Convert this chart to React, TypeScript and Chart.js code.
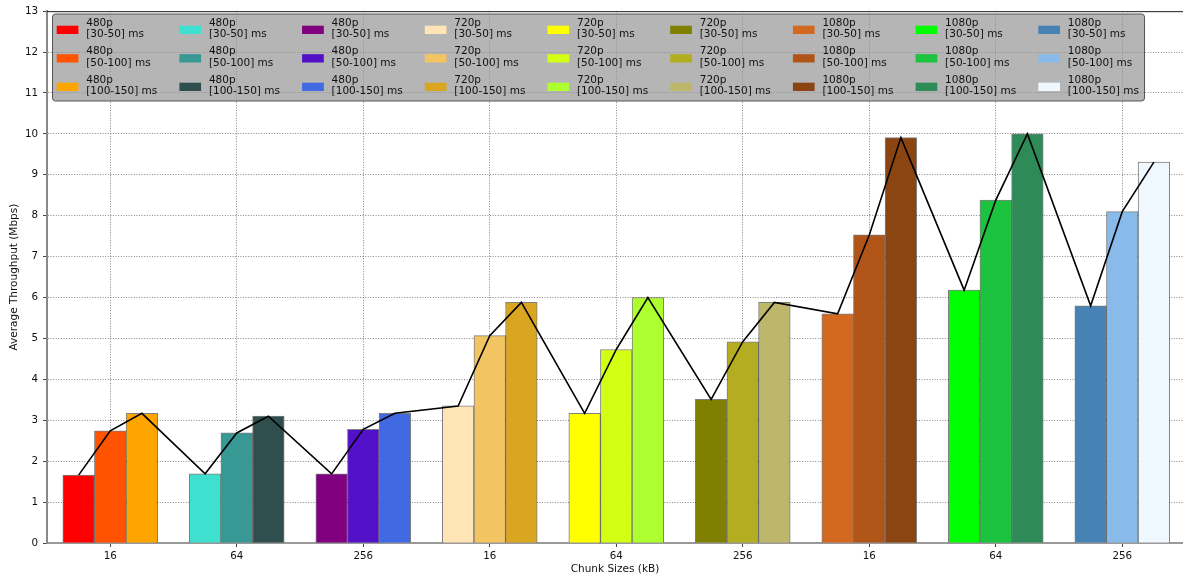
import React, { useEffect, useRef } from 'react';
import { Chart, registerables } from 'chart.js';

Chart.register(...registerables);

// ---- data ----
const chunkSizes = ['16', '64', '256', '16', '64', '256', '16', '64', '256'];
const groupResolutions = ['480p', '480p', '480p', '720p', '720p', '720p', '1080p', '1080p', '1080p'];
const latencyRanges = ['[30-50] ms', '[50-100] ms', '[100-150] ms'];

const throughput30to50 = [1.66, 1.69, 1.69, 3.35, 3.17, 3.51, 5.6, 6.18, 5.8];
const throughput50to100 = [2.74, 2.69, 2.78, 5.07, 4.73, 4.92, 7.53, 8.38, 8.1];
const throughput100to150 = [3.17, 3.1, 3.17, 5.88, 6.0, 5.88, 9.91, 10.0, 9.31];

const colors30to50 = ['#ff0000', '#40e0d0', '#800080', '#ffe4b5', '#ffff00', '#808000', '#d2691e', '#00ff00', '#4682b4'];
const colors50to100 = ['#ff5300', '#379894', '#5210c8', '#f3c462', '#d2ff14', '#b4ad22', '#b05418', '#1bc33e', '#89bbea'];
const colors100to150 = ['#ffa500', '#2f4f4f', '#4169e1', '#daa520', '#adff2f', '#bdb76b', '#8b4513', '#2e8b57', '#f0f8ff'];

const yMax = 13;

const seriesValues = [throughput30to50, throughput50to100, throughput100to150];
const seriesColors = [colors30to50, colors50to100, colors100to150];

// ---- derived (positions inside each group: left / middle / right bar) ----
const barOffsets = [-0.25, 0, 0.25];
const points: { x: number; y: number }[] = [];
const pointColors: string[] = [];
chunkSizes.forEach((_, g) => {
  for (let j = 0; j < 3; j++) {
    points.push({ x: g + barOffsets[j], y: seriesValues[j][g] });
    pointColors.push(seriesColors[j][g]);
  }
});

const FONT = 'DejaVu Sans';
const TEXT = '#111';

const overlayPlugin = {
  id: 'overlay',
  afterDatasetsDraw(chart: any) {
    const { ctx, chartArea } = chart;
    ctx.save();
    // top spine
    ctx.strokeStyle = '#222';
    ctx.lineWidth = 1;
    ctx.beginPath();
    ctx.moveTo(chartArea.left, chartArea.top + 0.5);
    ctx.lineTo(chartArea.right, chartArea.top + 0.5);
    ctx.stroke();

    // legend box
    const bx = 52.5, by = 14, bw = 1092, bh = 87, r = 3;
    ctx.beginPath();
    ctx.moveTo(bx + r, by);
    ctx.lineTo(bx + bw - r, by);
    ctx.quadraticCurveTo(bx + bw, by, bx + bw, by + r);
    ctx.lineTo(bx + bw, by + bh - r);
    ctx.quadraticCurveTo(bx + bw, by + bh, bx + bw - r, by + bh);
    ctx.lineTo(bx + r, by + bh);
    ctx.quadraticCurveTo(bx, by + bh, bx, by + bh - r);
    ctx.lineTo(bx, by + r);
    ctx.quadraticCurveTo(bx, by, bx + r, by);
    ctx.closePath();
    ctx.fillStyle = 'rgba(150,150,150,0.7)';
    ctx.fill();
    ctx.strokeStyle = '#555';
    ctx.lineWidth = 1;
    ctx.stroke();

    ctx.font = `10.5px "${FONT}"`;
    ctx.textBaseline = 'middle';
    ctx.textAlign = 'left';
    for (let c = 0; c < chunkSizes.length; c++) {
      for (let rr = 0; rr < 3; rr++) {
        const x0 = 56.7 + c * 122.7;
        const sy = 25.7 + rr * 28.5;
        ctx.fillStyle = seriesColors[rr][c];
        ctx.fillRect(x0, sy, 21.7, 8.3);
        ctx.fillStyle = TEXT;
        ctx.fillText(groupResolutions[c], x0 + 29.5, 22.9 + rr * 28.5);
        ctx.fillText(latencyRanges[rr], x0 + 29.5, 34.4 + rr * 28.5);
      }
    }
    ctx.restore();
  },
};

export default function App() {
  const ref = useRef<HTMLCanvasElement | null>(null);
  useEffect(() => {
    if (!ref.current) return;
    const tickFont = { family: FONT, size: 10.3 };
    const titleFont = { family: FONT, size: 10.5 };
    const chart = new Chart(ref.current, {
      type: 'bar',
      data: {
        datasets: [
          {
            type: 'line',
            data: points,
            borderColor: '#000',
            borderWidth: 1.6,
            pointRadius: 0,
            tension: 0,
            fill: false,
            order: 0,
          } as any,
          {
            type: 'bar',
            data: points,
            backgroundColor: pointColors,
            borderColor: 'rgba(0,0,0,0.5)',
            borderWidth: 1,
            barPercentage: 1,
            categoryPercentage: 1,
            order: 1,
          } as any,
        ],
      },
      options: {
        responsive: false,
        animation: false,
        layout: { padding: { top: 7.5, right: 0, left: 0, bottom: 0 } },
        plugins: { legend: { display: false }, tooltip: { enabled: false } },
        scales: {
          x: {
            type: 'linear',
            min: -0.5,
            max: 8.48,
            offset: false,
            afterBuildTicks: (s: any) => {
              s.ticks = chunkSizes.map((_, i) => ({ value: i }));
            },
            afterFit: (s: any) => {
              s.height = 34;
            },
            ticks: {
              callback: (_v: any, i: number) => chunkSizes[i],
              font: tickFont,
              color: TEXT,
              padding: 3,
              autoSkip: false,
              maxRotation: 0,
            },
            grid: {
              offset: false,
              color: 'rgba(0,0,0,0.6)',
              lineWidth: 0.8,
              tickColor: '#444',
              tickLength: 4,
              tickWidth: 1,
            },
            border: { color: '#999', width: 2, dash: [1, 1.6] },
            title: {
              display: true,
              text: 'Chunk Sizes (kB)',
              font: titleFont,
              color: TEXT,
              padding: { top: 0, bottom: 1 },
            },
          },
          y: {
            min: 0,
            max: yMax,
            afterFit: (s: any) => {
              s.width = 47;
            },
            ticks: { stepSize: 1, font: tickFont, color: TEXT, padding: 5 },
            grid: {
              color: 'rgba(0,0,0,0.6)',
              lineWidth: 0.8,
              tickColor: '#444',
              tickLength: 4,
              tickWidth: 1,
            },
            border: { color: '#888', width: 2, dash: [1, 1.6] },
            title: {
              display: true,
              text: 'Average Throughput (Mbps)',
              font: titleFont,
              color: TEXT,
              padding: { top: 8, bottom: 0 },
            },
          },
        },
      } as any,
      plugins: [overlayPlugin],
    });
    return () => chart.destroy();
  }, []);
  return (
    <div style={{ position: 'absolute', left: 0, top: 0, width: 1183, height: 577 }}>
      <canvas ref={ref} width={1183} height={577} style={{ display: 'block', width: 1183, height: 577 }} />
    </div>
  );
}
